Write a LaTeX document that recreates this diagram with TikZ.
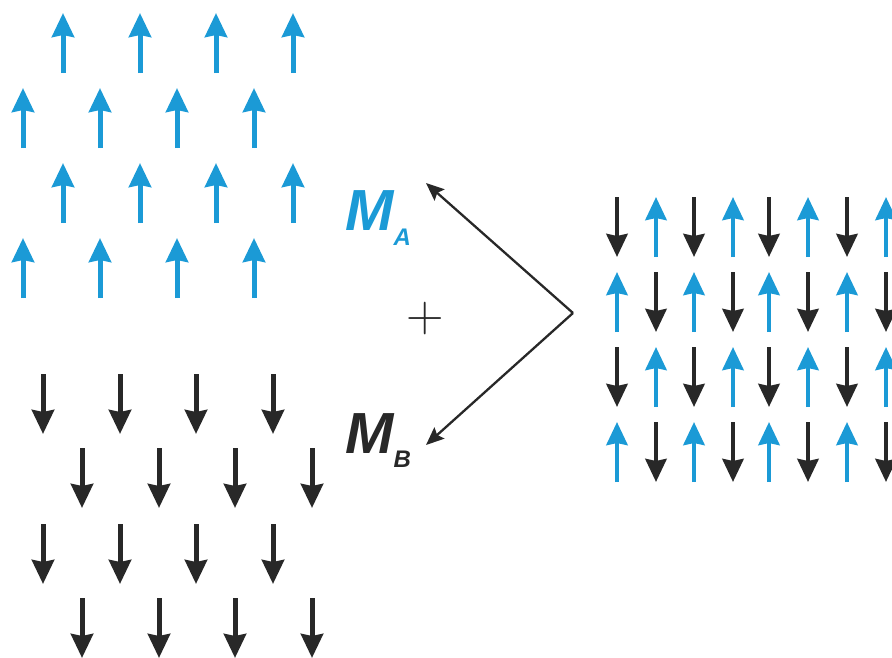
\documentclass[tikz,border=0pt]{standalone}
\usepackage{fontspec}
\newfontfamily\labelfont{Liberation Sans}
\usetikzlibrary{arrows.meta}
\definecolor{spinblue}{RGB}{27,154,214}
\definecolor{spinblack}{RGB}{40,40,40}
\tikzset{
  spinup/.style={draw=spinblue, fill=spinblue, line width=5pt, -{Stealth[length=24pt,width=22pt,inset=2pt]}},
  spindn/.style={draw=spinblack, fill=spinblack, line width=5pt, -{Stealth[length=24pt,width=22pt,inset=2pt]}},
  gridup/.style={draw=spinblue, fill=spinblue, line width=4.5pt, -{Stealth[length=23pt,width=21pt,inset=2pt]}},
  griddn/.style={draw=spinblack, fill=spinblack, line width=4.5pt, -{Stealth[length=23pt,width=21pt,inset=2pt]}},
  vec/.style={draw=spinblack, line width=2.3pt, -{Stealth[length=18pt,width=15pt,inset=3pt]}},
  lbl/.style={inner sep=0pt, anchor=base west, font=\labelfont\bfseries\itshape\fontsize{58}{58}\selectfont},
}
\begin{document}
\begin{tikzpicture}[x=1pt,y=-1pt]
\useasboundingbox (0,0) rectangle (892,657);
\clip (0,0) rectangle (892,657);
% blue lattice (A)
\foreach \yt in {13,163}{
  \foreach \x in {63,140,216,293}{ \draw[spinup] (\x,\yt+60) -- (\x,\yt); }
}
\foreach \yt in {88,238}{
  \foreach \x in {23,100,177,254}{ \draw[spinup] (\x,\yt+60) -- (\x,\yt); }
}
% black lattice (B)
\foreach \ys in {374,524}{
  \foreach \x in {43,120,196,273}{ \draw[spindn] (\x,\ys) -- (\x,\ys+60); }
}
\foreach \ys in {448,598}{
  \foreach \x in {82,159,235,312}{ \draw[spindn] (\x,\ys) -- (\x,\ys+60); }
}
% combined lattice
\foreach \ys [count=\r] in {197,272,347,422}{
  \foreach \x [count=\c] in {617,656,694,733,769,808,847,886}{
    \pgfmathtruncatemacro{\parity}{mod(\r+\c,2)}
    \ifnum\parity=0
      \draw[griddn] (\x,\ys) -- (\x,\ys+60);
    \else
      \draw[gridup] (\x,\ys+60) -- (\x,\ys);
    \fi
  }
}
% vectors
\coordinate (v) at (573,313);
\coordinate (ma) at (426,183);
\coordinate (mb) at (426,445);
\draw[vec] (v) -- (ma);
\draw[vec] (v) -- (mb);
\node[lbl, text=spinblue] (la) at (345,230) {M\raisebox{-15pt}{\fontsize{24}{24}\selectfont A}};
\node[lbl, text=spinblack] (lb) at (345,453) {M\raisebox{-14pt}{\fontsize{24}{24}\selectfont B}};
\node[inner sep=0pt, anchor=base, text=spinblack, font=\fontsize{52}{52}\selectfont] (plus) at (425,331) {+};
\end{tikzpicture}
\end{document}
